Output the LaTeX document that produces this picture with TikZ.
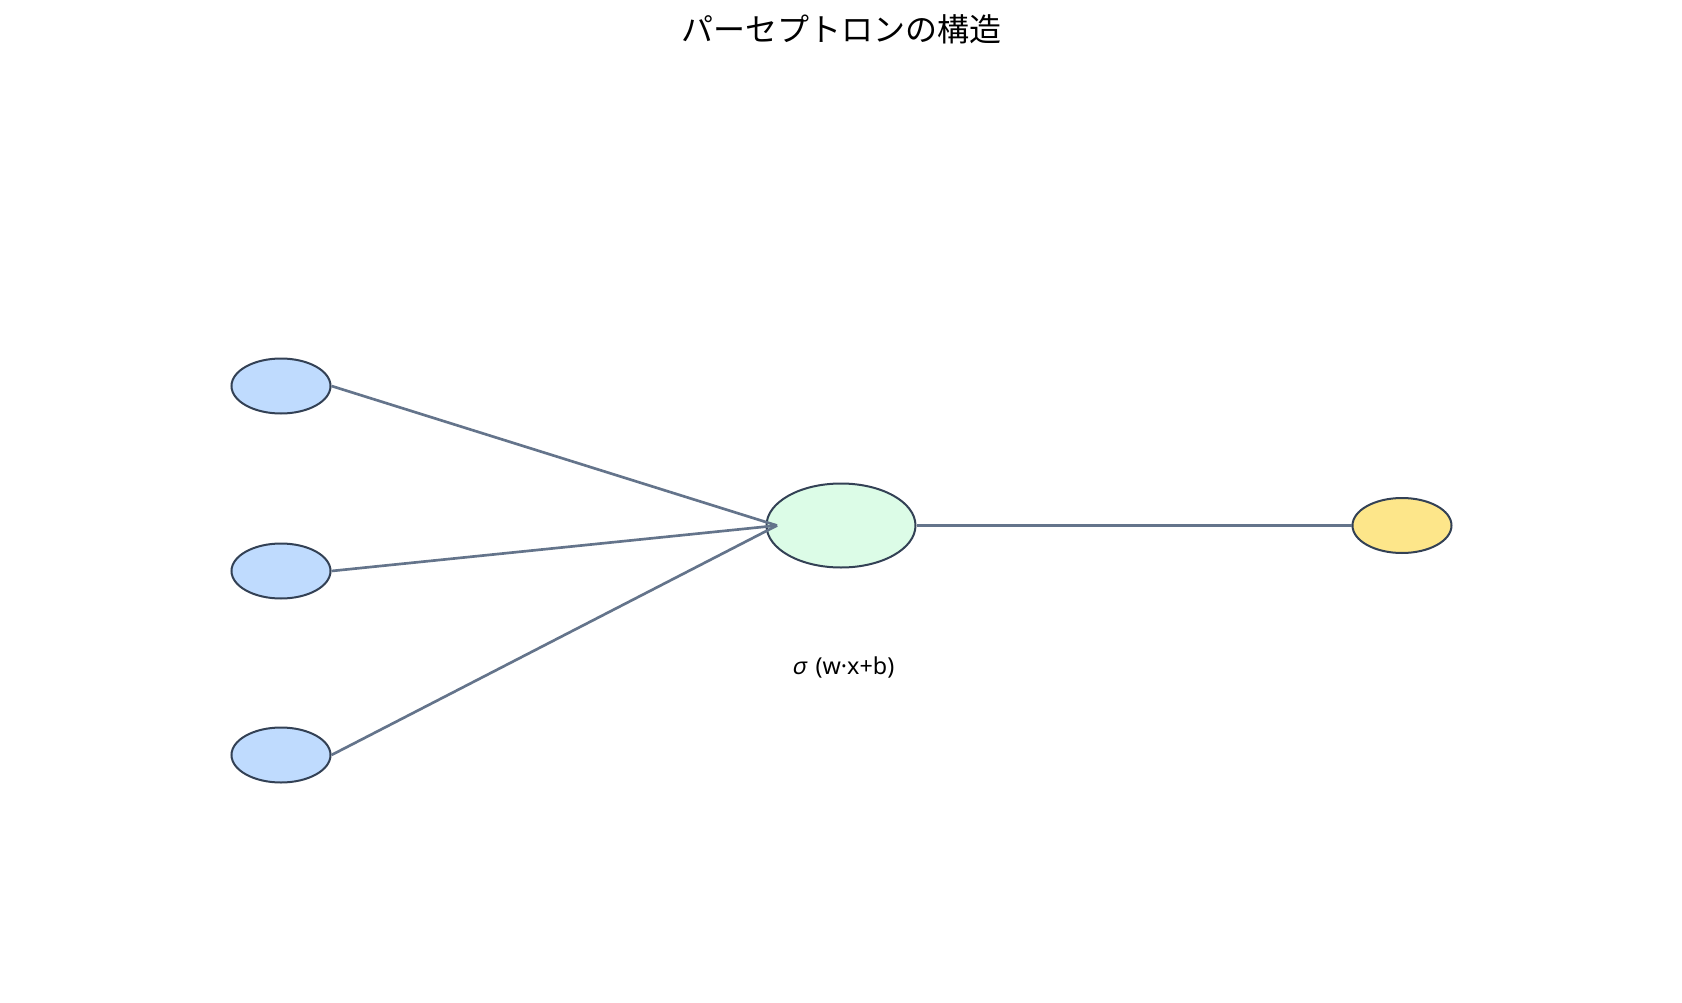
\documentclass[tikz,border=0pt]{standalone}
\usepackage{fontspec}
\setmainfont{Noto Sans CJK JP}
\newfontfamily\labelfont{Noto Sans}
\newfontfamily\slantfont[FakeSlant=0.2]{Noto Sans}
\usetikzlibrary{shapes.geometric}

\definecolor{inputfill}{HTML}{BFDBFE}
\definecolor{neuronfill}{HTML}{DCFCE7}
\definecolor{outputfill}{HTML}{FDE68A}
\definecolor{border}{HTML}{334155}
\definecolor{wire}{HTML}{64748B}

\def\px{0.75pt}

\tikzset{
	unit/.style={ellipse, draw=border, line width=1.5pt, inner sep=0pt},
	inputunit/.style={unit, fill=inputfill, minimum width={99*\px}, minimum height={55*\px}},
	neuronunit/.style={unit, fill=neuronfill, minimum width={149*\px}, minimum height={84*\px}},
	outputunit/.style={unit, fill=outputfill, minimum width={99*\px}, minimum height={55*\px}},
	wire/.style={draw=wire, line width=2pt},
}

\begin{document}
\begin{tikzpicture}[x=\px, y=-\px]

% canvas %{{{2

	\useasboundingbox (0,0) rectangle (1682,1003);

% title %{{{2

	\node (title) at (841,29) {\fontsize{24}{28}\selectfont パーセプトロンの構造};

% units %{{{2

	\foreach \i/\y in {1/386, 2/571, 3/755} {
		\node[inputunit] (x\i) at (281,\y) {};
	}

	\node[neuronunit] (n) at (841,525.5) {};
	\node[outputunit] (y) at (1402,525.5) {};

	\coordinate (sum) at (777,525.5);

% connections %{{{2

	\foreach \i in {1,...,3} {
		\draw[wire] (x\i.east) -- (sum);
	}

	\draw[wire] (n.east) -- (y.west);

% labels %{{{2

	\node (act) at (843,667) {\labelfont\fontsize{17.5}{21}\selectfont {\slantfont σ}\hspace{0.15em} (w·x+b)};

% closing %{{{2

\end{tikzpicture}
\end{document}
